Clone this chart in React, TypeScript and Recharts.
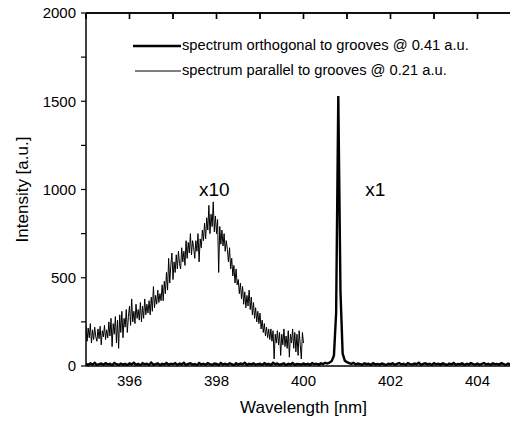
import React from 'react';
import { LineChart, Line, XAxis, YAxis, ReferenceDot, ReferenceLine } from 'recharts';

// Wavelength grid (nm)
const parallelStart = 395;
const parallelStep = 0.025;
const orthoStart = 395;
const orthoStep = 0.05;

const xTicks = [396, 398, 400, 402, 404];
const xMinorTicks = [395, 396, 397, 398, 399, 400, 401, 402, 403, 404, 405];
const yTicks = [0, 250, 500, 750, 1000, 1250, 1500, 1750, 2000];

const seriesNames = [
  'spectrum orthogonal to grooves @ 0.41 a.u.',
  'spectrum parallel to grooves @ 0.21 a.u.',
];

// spectrum parallel to grooves (x10), 395.000 .. 400.000 nm
const parallelIntensity = [
  230, 140, 215, 160, 240, 130, 205, 150, 220, 165,
  140, 210, 155, 225, 120, 200, 165, 230, 150, 205,
  160, 250, 170, 270, 110, 240, 180, 280, 130, 260,
  100, 290, 190, 310, 160, 270, 220, 320, 190, 280,
  340, 230, 380, 250, 310, 240, 350, 270, 320, 260,
  360, 250, 340, 270, 380, 290, 350, 300, 370, 290,
  390, 310, 450, 330, 400, 350, 430, 360, 410, 370,
  460, 370, 480, 410, 530, 430, 610, 470, 570, 640,
  490, 590, 530, 630, 550, 650, 580, 550, 670, 590,
  650, 570, 710, 610, 700, 640, 750, 630, 710, 670,
  610, 710, 650, 750, 590, 720, 670, 770, 710, 810,
  720, 840, 770, 910, 750, 860, 790, 930, 760, 850,
  750, 830, 530, 790, 690, 770, 680, 750, 650, 710,
  660, 590, 670, 550, 610, 510, 570, 470, 550, 460,
  490, 410, 470, 380, 450, 350, 420, 330, 400, 340,
  430, 320, 390, 290, 360, 270, 330, 250, 310, 240,
  300, 210, 260, 190, 240, 170, 220, 160, 210, 150,
  210, 140, 200, 40, 180, 130, 200, 120, 190, 60,
  180, 120, 210, 110, 170, 100, 200, 50, 180, 130,
  210, 100, 190, 80, 180, 60, 200, 120, 40, 190,
  130,
];

// spectrum orthogonal to grooves (x1), 395.00 .. 405.00 nm
const orthoIntensity = [
  12, 6, 15, 8, 18, 5, 11, 14, 7, 16, 9, 13, 4, 17, 10, 6, 14, 8, 12, 5,
  15, 9, 18, 7, 12, 4, 16, 10, 13, 6, 19, 8, 11, 15, 5, 12, 9, 17, 7, 13,
  10, 16, 6, 14, 9, 18, 5, 12, 15, 8, 11, 4, 17, 9, 13, 7, 16, 10, 6, 14,
  12, 5, 17, 9, 13, 7, 15, 11, 4, 16, 8, 14, 10, 18, 6, 12, 9, 15, 7, 11,
  13, 6, 16, 9, 12, 5, 18, 10, 14, 7, 11, 15, 4, 13, 9, 17, 6, 12, 10, 8,
  14, 9, 12, 7, 16, 10, 13, 8, 15, 11, 18, 14, 20, 28, 60, 300, 1530, 420, 70, 30,
  22, 16, 12, 18, 9, 14, 11, 7, 15, 10, 13, 6, 16, 9, 12, 8, 14, 11, 5, 13,
  10, 15, 7, 12, 17, 9, 13, 6, 16, 11, 8, 14, 10, 18, 7, 12, 15, 9, 13, 6,
  16, 10, 13, 8, 15, 11, 5, 14, 9, 17, 7, 12, 10, 15, 6, 13, 9, 16, 11, 8,
  14, 7, 12, 17, 9, 13, 6, 15, 10, 12, 8, 16, 11, 5, 14, 9, 13, 7, 15, 10,
  12,
];

const annotations = [
  { x: 397.95, y: 1000, text: 'x10' },
  { x: 401.65, y: 1000, text: 'x1' },
];

const parallelData = parallelIntensity.map((v, i) => ({
  wl: +(parallelStart + i * parallelStep).toFixed(3),
  par: v,
}));
const orthoData = orthoIntensity.map((v, i) => ({
  wl: +(orthoStart + i * orthoStep).toFixed(3),
  orth: v,
}));

const FONT = '"Liberation Sans", Arial, Helvetica, sans-serif';
const hiddenTick = { fill: 'transparent', fontSize: 1 };

const TopTick = (p: any) => {
  const top = Math.min(p.y1, p.y2);
  return <line x1={p.x1} x2={p.x1} y1={top} y2={top + 6} stroke="#000" strokeWidth={1.2} />;
};
const RightTick = (p: any) => {
  const right = Math.max(p.x1, p.x2);
  return <line x1={right - 7} x2={right} y1={p.y1} y2={p.y1} stroke="#000" strokeWidth={1.2} />;
};

export default function App() {
  return (
    <div style={{ position: 'relative', width: 530, height: 424, margin: -8, fontFamily: FONT }}>
      <LineChart
        width={530}
        height={424}
        margin={{ top: 13, right: 9, left: 0, bottom: 0 }}
      >
        <XAxis
          xAxisId="b"
          dataKey="wl"
          type="number"
          domain={[395, 405]}
          ticks={xTicks}
          allowDataOverflow
          height={58}
          axisLine={{ stroke: '#000', strokeWidth: 1.5 }}
          tickLine={false}
          tickSize={5}
          tickMargin={4}
          tick={{ fill: '#000', fontSize: 15, fontFamily: FONT }}
          label={{ value: 'Wavelength [nm]', position: 'insideBottom', offset: 11, fill: '#000', fontSize: 17, fontFamily: FONT }}
        />
        <XAxis
          xAxisId="t"
          orientation="top"
          dataKey="wl"
          type="number"
          domain={[395, 405]}
          tickCount={11}
          height={2}
          mirror
          stroke="#000"
          strokeWidth={1.5}
          tickSize={6}
          tick={hiddenTick}
        />
        <YAxis
          yAxisId="l"
          type="number"
          domain={[0, 2000]}
          ticks={yTicks}
          allowDataOverflow
          width={86}
          axisLine={{ stroke: '#000', strokeWidth: 1.5 }}
          tickLine={{ stroke: '#000', strokeWidth: 1.2 }}
          tickSize={5}
          tickMargin={5}
          tickFormatter={(v: number) => (v % 500 === 0 ? String(v) : '')}
          tick={{ fill: '#000', fontSize: 15, fontFamily: FONT }}
          label={{ value: 'Intensity [a.u.]', angle: -90, position: 'insideLeft', offset: 22, fill: '#000', fontSize: 17, fontFamily: FONT, style: { textAnchor: 'middle' } }}
        />
        <YAxis
          yAxisId="r"
          orientation="right"
          type="number"
          domain={[0, 2000]}
          tickCount={9}
          width={2}
          mirror
          stroke="#000"
          strokeWidth={1.5}
          tickSize={7}
          tick={hiddenTick}
        />
        <ReferenceLine xAxisId="b" yAxisId="l" y={2000} stroke="#000" strokeWidth={1.5} ifOverflow="visible" />
        {xMinorTicks.map((t) => (
          <ReferenceLine key={'tx' + t} xAxisId="b" yAxisId="l" x={t} ifOverflow="visible" shape={TopTick} />
        ))}
        {yTicks.map((t) => (
          <ReferenceLine key={'ry' + t} xAxisId="b" yAxisId="l" y={t} ifOverflow="visible" shape={RightTick} />
        ))}
        <Line
          xAxisId="t"
          yAxisId="r"
          data={orthoData}
          dataKey="orth"
          type="linear"
          stroke="none"
          dot={false}
          activeDot={false}
          legendType="none"
          isAnimationActive={false}
        />
        <Line
          xAxisId="b"
          yAxisId="l"
          data={orthoData}
          dataKey="orth"
          type="linear"
          stroke="#000"
          strokeWidth={2.4}
          dot={false}
          isAnimationActive={false}
        />
        <Line
          xAxisId="b"
          yAxisId="l"
          data={parallelData}
          dataKey="par"
          type="linear"
          stroke="#000"
          strokeWidth={1}
          dot={false}
          isAnimationActive={false}
        />
        {annotations.map((a) => (
          <ReferenceDot
            key={a.text}
            xAxisId="b"
            yAxisId="l"
            x={a.x}
            y={a.y}
            r={0}
            fill="none"
            stroke="none"
            label={{ value: a.text, position: 'center', fill: '#000', fontSize: 19, fontFamily: FONT }}
          />
        ))}
      </LineChart>
      <div style={{ position: 'absolute', left: 133, top: 33, fontSize: 14.7, lineHeight: '25px', color: '#000', fontFamily: FONT }}>
        <div style={{ display: 'flex', alignItems: 'center' }}>
          <svg width={48} height={10}><line x1={0} y1={5} x2={48} y2={5} stroke="#000" strokeWidth={2.5} /></svg>
          <span style={{ marginLeft: 1 }}>{seriesNames[0]}</span>
        </div>
        <div style={{ display: 'flex', alignItems: 'center' }}>
          <svg width={48} height={10}><line x1={2} y1={5} x2={48} y2={5} stroke="#000" strokeWidth={1} /></svg>
          <span style={{ marginLeft: 1 }}>{seriesNames[1]}</span>
        </div>
      </div>
    </div>
  );
}
